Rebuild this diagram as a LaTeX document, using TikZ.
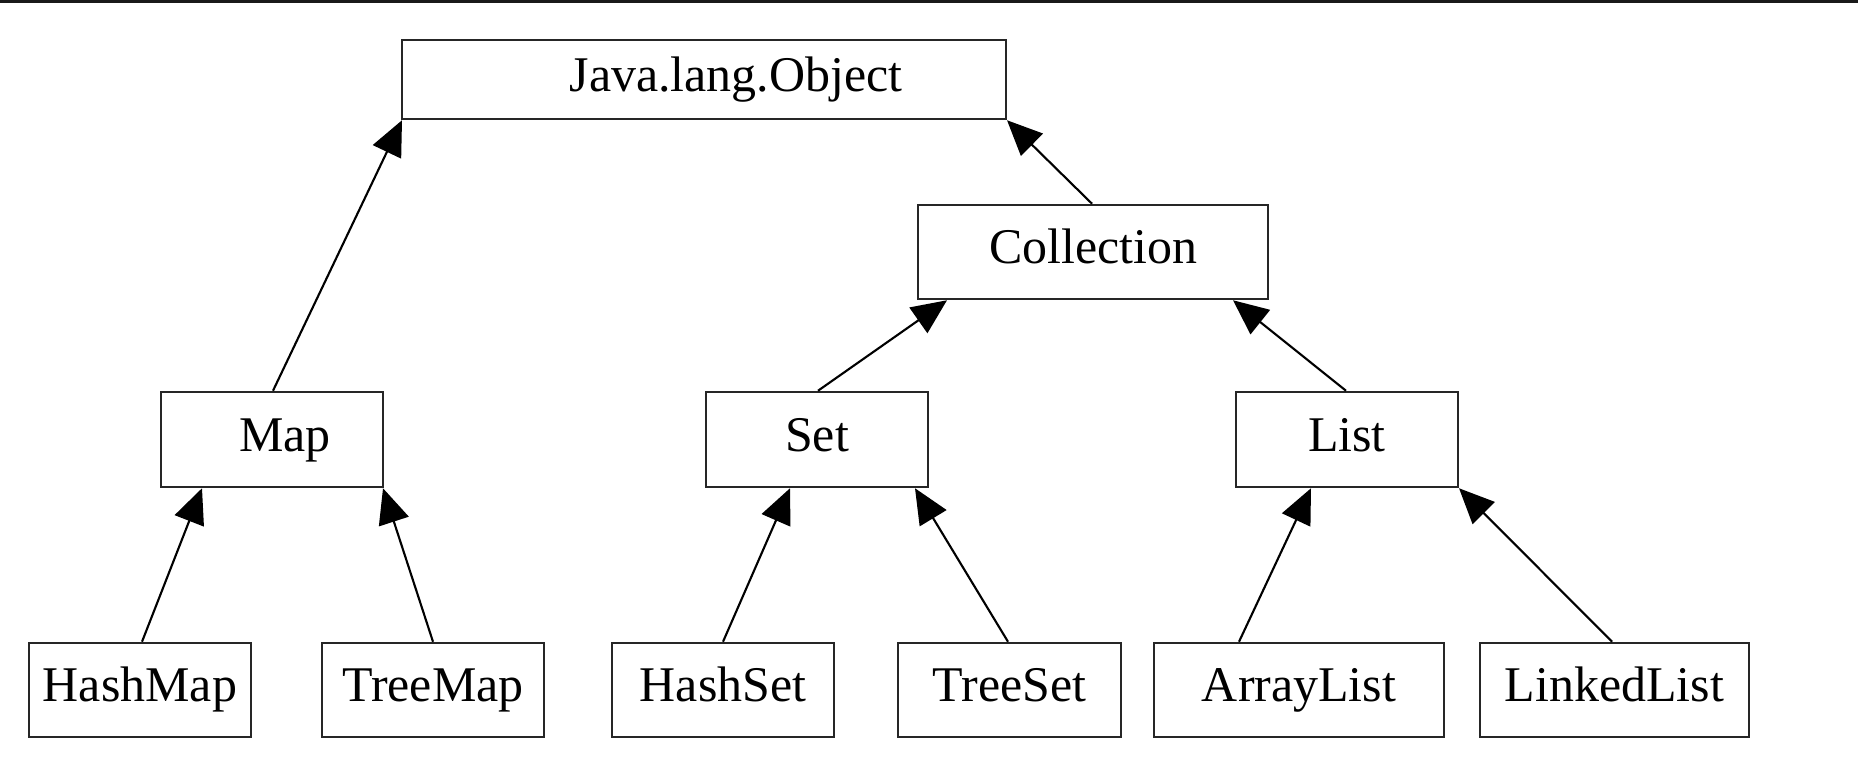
\documentclass[tikz,border=0pt]{standalone}
\usepackage{fontspec}
\setmainfont{Liberation Serif}
\usepackage{tikz}
\usetikzlibrary{arrows.meta}
\tikzset{every picture/.style={x=0.01cm, y=-0.01cm},
  cls/.style={draw=black!85, line width=0.7pt, rectangle, inner sep=0pt,
    minimum width=2.22cm, minimum height=0.94cm, text height=0.7em, text depth=0.02em,
    font=\fontsize{14.2pt}{17pt}\selectfont},
  inh/.style={line width=0.6pt, -{Triangle[length=0.35cm, width=0.31cm]}}}

\begin{document}
\begin{tikzpicture}
  \useasboundingbox (0,0) rectangle (1858,773);
  \fill[black!90] (0,0) rectangle (1858,3);

  \node[cls, minimum width=6.04cm, minimum height=0.79cm] (obj) at (704,79.5){\hspace*{0.64cm}Java.lang.Object};
  \node[cls, minimum width=3.5cm] (coll) at (1093,252){Collection};
  \node[cls, minimum height=0.95cm] (map) at (272,439.5){\hspace*{0.26cm}Map};
  \node[cls, minimum height=0.95cm] (set) at (817,439.5){Set};
  \node[cls, minimum height=0.95cm] (list) at (1347,439.5){List};
  \node[cls] (hashmap) at (140,690){HashMap};
  \node[cls] (treemap) at (433,690){TreeMap};
  \node[cls] (hashset) at (723,690){HashSet};
  \node[cls, minimum width=2.23cm] (treeset) at (1009.5,690){TreeSet};
  \node[cls, minimum width=2.9cm] (arraylist) at (1299,690){ArrayList};
  \node[cls, minimum width=2.69cm] (linkedlist) at (1614.5,690){LinkedList};

  \draw[inh] (map.north -| 273,0) -- (obj.south -| 402,0);
  \draw[inh] (coll.north -| 1092,0) -- (obj.south -| 1007,0);
  \draw[inh] (set.north -| 818,0) -- (coll.south -| 947,0);
  \draw[inh] (list.north -| 1346,0) -- (coll.south -| 1233,0);
  \draw[inh] (hashmap.north -| 142,0) -- (map.south -| 202,0);
  \draw[inh] (treemap.north -| 433,0) -- (map.south -| 383,0);
  \draw[inh] (hashset.north -| 723,0) -- (set.south -| 790,0);
  \draw[inh] (treeset.north -| 1008,0) -- (set.south -| 915,0);
  \draw[inh] (arraylist.north -| 1239,0) -- (list.south -| 1311,0);
  \draw[inh] (linkedlist.north -| 1612,0) -- (list.south -| 1459,0);
\end{tikzpicture}
\end{document}
